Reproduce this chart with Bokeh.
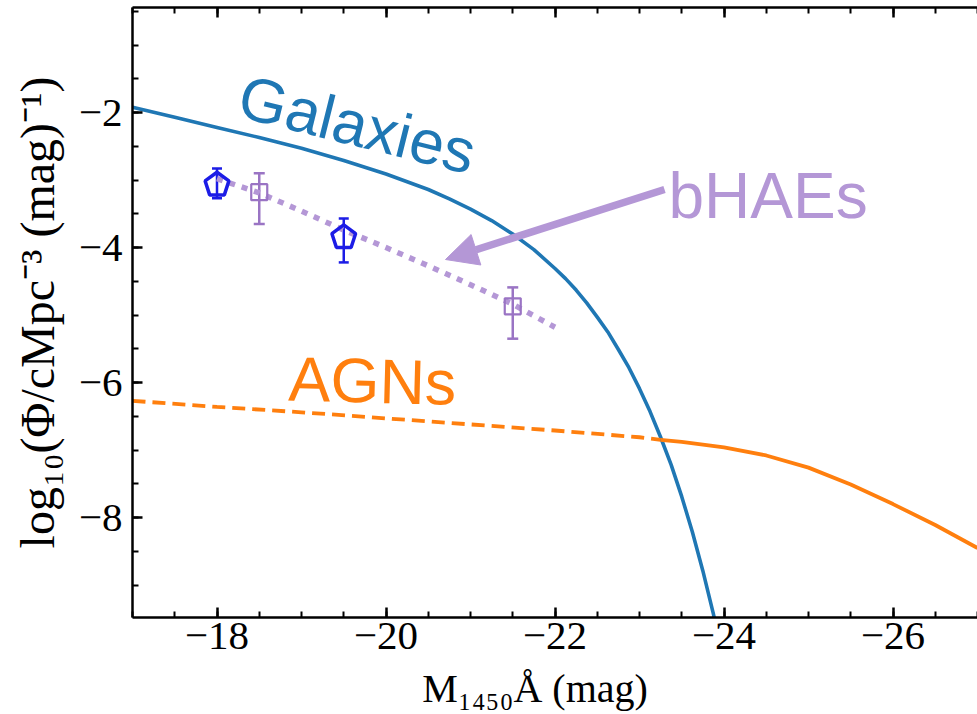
import numpy as np
from bokeh.plotting import figure
from bokeh.models import (Range1d, LinearAxis, FixedTicker, Arrow, NormalHead, Whisker,
                          TeeHead, ColumnDataSource, Label)
from bokeh.embed import file_html
from bokeh.resources import INLINE

# ---------------- data ----------------
gal_M = [-17.0, -17.5, -18.0, -18.5, -19.0, -19.5, -20.0, -20.5, -20.75, -21.0, -21.25,
         -21.5, -21.75, -22.0, -22.125, -22.25, -22.375, -22.5, -22.625, -22.75, -22.875,
         -23.0, -23.125, -23.25, -23.375, -23.5, -23.625, -23.75, -23.875, -24.0]
gal_logphi = [-1.92, -2.07, -2.22, -2.37, -2.53, -2.71, -2.91, -3.14, -3.28, -3.43, -3.60,
              -3.80, -4.03, -4.31, -4.46, -4.63, -4.82, -5.03, -5.25, -5.51, -5.78,
              -6.09, -6.43, -6.81, -7.22, -7.69, -8.21, -8.79, -9.43, -10.15]

agn_dash_M = [-17.0, -18.0, -19.0, -20.0, -21.0, -22.0, -23.0, -23.25]
agn_dash_logphi = [-6.27, -6.36, -6.44, -6.53, -6.62, -6.71, -6.81, -6.85]
agn_solid_M = [-23.25, -23.5, -24.0, -24.5, -25.0, -25.5, -26.0, -26.5, -27.0]
agn_solid_logphi = [-6.85, -6.88, -6.96, -7.08, -7.26, -7.51, -7.80, -8.11, -8.45]

pent_M = [-18.0, -19.5]
pent_logphi = [-3.07, -3.85]
pent_hi = [-2.83, -3.57]
pent_lo = [-3.27, -4.22]

sq_M = [-18.5, -21.5]
sq_logphi = [-3.18, -4.87]
sq_hi = [-2.90, -4.59]
sq_lo = [-3.65, -5.35]

fit_M = [-18.0, -18.5, -19.0, -19.5, -20.0, -20.5, -21.0, -21.5, -22.0]
fit_logphi = [-2.98, -3.19, -3.46, -3.74, -4.00, -4.27, -4.55, -4.84, -5.18]

x_ticks = [-18, -20, -22, -24, -26]
x_tick_labels = ["\u221218", "\u221220", "\u221222", "\u221224", "\u221226"]
y_ticks = [-2, -4, -6, -8]
y_tick_labels = ["\u22122", "\u22124", "\u22126", "\u22128"]

# ---------------- styling / layout ----------------
W, H = 977, 714
LEFT, BOTTOM, TOP = 132, 97, 7
X0, X1 = -17.0, -27.0
Y0, Y1 = -9.48, -0.444

C_GAL = "#1f77b4"
C_AGN = "#ff7f0e"
C_PURP = "#b497d6"
C_SQ = "#9a74c4"
C_BLUE = "#1c1ce6"
SERIF = "Liberation Serif"

p = figure(width=W, height=H, x_range=Range1d(X0, X1), y_range=Range1d(Y0, Y1),
           output_backend="svg", toolbar_location=None,
           min_border_left=LEFT, min_border_right=0, min_border_top=TOP,
           min_border_bottom=BOTTOM)
p.outline_line_color = None
p.grid.visible = False
p.background_fill_color = "white"
p.border_fill_color = "white"

xminor = list(np.arange(-17.0, -27.01, -0.5))
yminor = list(np.arange(-9.5, -0.49, 0.5))

def style_axis(ax):
    ax.axis_line_width = 2.5
    ax.axis_line_color = "black"
    ax.major_tick_in = 10
    ax.major_tick_out = 0
    ax.major_tick_line_width = 2.5
    ax.minor_tick_in = 6
    ax.minor_tick_out = 0
    ax.minor_tick_line_width = 2
    ax.major_label_text_font = SERIF
    ax.major_label_text_font_size = "41px"
    ax.major_label_text_color = "black"
    ax.axis_label_text_color = "black"

xa = p.xaxis[0]
xa.ticker = FixedTicker(ticks=x_ticks, minor_ticks=xminor)
xa.major_label_overrides = dict(zip(x_ticks, x_tick_labels))
style_axis(xa)
xa.major_label_standoff = 5
xa.major_label_text_line_height = 0.8
xa.axis_label = "M\u2081\u2084\u2085\u2080\u00c5 (mag)\u00a0\u00a0\u00a0\u00a0"
xa.axis_label_text_font = SERIF
xa.axis_label_text_font_style = "normal"
xa.axis_label_text_font_size = "40px"
xa.axis_label_text_line_height = 0.8
xa.axis_label_standoff = 14

ya = p.yaxis[0]
ya.ticker = FixedTicker(ticks=y_ticks, minor_ticks=yminor)
ya.major_label_overrides = dict(zip(y_ticks, y_tick_labels))
style_axis(ya)
ya.major_label_standoff = 10
ya.axis_label = "log\u2081\u2080(\u03a6/cMpc\u207b\u00b3 (mag)\u207b\u00b9)"
ya.axis_label_text_font = SERIF
ya.axis_label_text_font_style = "normal"
ya.axis_label_text_font_size = "48px"
ya.axis_label_standoff = 12

top = LinearAxis(ticker=FixedTicker(ticks=x_ticks, minor_ticks=xminor))
style_axis(top)
top.major_label_overrides = {t: "" for t in x_ticks}
top.major_label_text_font_size = "1px"
top.major_label_standoff = 0
p.add_layout(top, "above")

# ---------------- curves ----------------
p.line(gal_M, gal_logphi, line_color=C_GAL, line_width=3.6)
p.line(agn_dash_M, agn_dash_logphi, line_color=C_AGN, line_width=3.8, line_dash="13 7")
p.line(agn_solid_M, agn_solid_logphi, line_color=C_AGN, line_width=3.8)

p.line(fit_M, fit_logphi, line_color=C_PURP, line_width=5.5, line_dash="6 7")

# error bars + markers
sq_src = ColumnDataSource(dict(x=sq_M, y=sq_logphi, hi=sq_hi, lo=sq_lo))
p.add_layout(Whisker(source=sq_src, base="x", upper="hi", lower="lo", dimension="height",
                     line_color=C_SQ, line_width=2.5,
                     upper_head=TeeHead(size=11, line_color=C_SQ, line_width=2.5),
                     lower_head=TeeHead(size=11, line_color=C_SQ, line_width=2.5)))
p.scatter("x", "y", source=sq_src, marker="square", size=16, fill_color="white",
          fill_alpha=0.0, line_color=C_SQ, line_width=2.2)

pent_src = ColumnDataSource(dict(x=pent_M, y=pent_logphi, hi=pent_hi, lo=pent_lo))
p.add_layout(Whisker(source=pent_src, base="x", upper="hi", lower="lo", dimension="height",
                     line_color=C_BLUE, line_width=2.5,
                     upper_head=TeeHead(size=10, line_color=C_BLUE, line_width=2.5),
                     lower_head=TeeHead(size=10, line_color=C_BLUE, line_width=2.5)))
# pentagon markers built around the data points (radius given in screen pixels)
px_per_x = (W - LEFT) / abs(X1 - X0)
px_per_y = (H - BOTTOM - TOP) / (Y1 - Y0)
R = 12.5
ang = np.deg2rad(90 + 72 * np.arange(5))
pxs = [list(m + R * np.cos(ang) / px_per_x) for m in pent_M]
pys = [list(v + R * np.sin(ang) / px_per_y) for v in pent_logphi]
p.patches(pxs, pys, fill_color=None, line_color=C_BLUE, line_width=3.5)

# ---------------- annotations ----------------
gal_txt_x, gal_txt_y, gal_txt_ang = -18.276, -1.744, -14.0
agn_txt_x, agn_txt_y, agn_txt_ang = -18.846, -5.94, -1.5
bh_txt_x, bh_txt_y = -23.343, -3.24
arr_x0, arr_y0, arr_x1, arr_y1 = -23.296, -3.140, -20.704, -4.177

p.add_layout(Label(x=gal_txt_x, y=gal_txt_y, text="Galaxies", angle=gal_txt_ang, angle_units="deg",
                   text_font="Liberation Sans", text_font_size="62px", text_color=C_GAL,
                   text_baseline="alphabetic", text_align="left"))
p.add_layout(Label(x=agn_txt_x, y=agn_txt_y, text="AGNs", angle=agn_txt_ang, angle_units="deg",
                   text_font="Liberation Sans", text_font_size="63px", text_color=C_AGN,
                   text_baseline="alphabetic", text_align="left"))
p.add_layout(Label(x=bh_txt_x, y=bh_txt_y, text="bHAEs",
                   text_font="Liberation Sans", text_font_size="64px", text_color=C_PURP,
                   text_baseline="alphabetic", text_align="left"))
p.add_layout(Arrow(x_start=arr_x0, y_start=arr_y0, x_end=arr_x1, y_end=arr_y1,
                   line_color=C_PURP, line_width=7.5,
                   end=NormalHead(size=32, fill_color=C_PURP, line_color=C_PURP, line_width=1)))

open("out.html", "w").write(file_html(p, INLINE))
